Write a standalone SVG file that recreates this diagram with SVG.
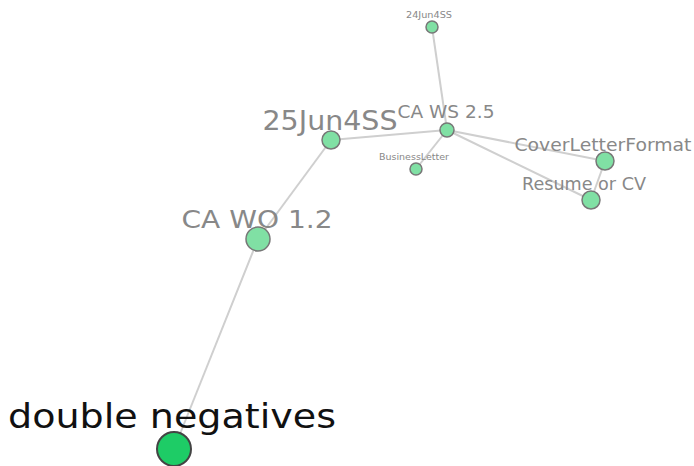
<svg xmlns="http://www.w3.org/2000/svg" width="694" height="466" viewBox="0 0 694 466">
<style>
.e{stroke:#cfcfcf;stroke-width:2;fill:none}
.n{fill:#80e0a4;stroke:#777;stroke-width:1.5}
.b{fill:#1ecc66;stroke:#444;stroke-width:2}
text{font-family:"DejaVu Sans","Liberation Sans",sans-serif;fill:#888;text-anchor:middle}
.big{fill:#111}
</style>
<rect width="694" height="466" fill="#fff"/>
<g id="connectors">
<line class="e" x1="174" y1="449" x2="258" y2="239"/>
<line class="e" x1="258" y1="239" x2="331" y2="140"/>
<line class="e" x1="331" y1="140" x2="447" y2="130"/>
<line class="e" x1="447" y1="130" x2="432" y2="27"/>
<line class="e" x1="447" y1="130" x2="416" y2="169"/>
<line class="e" x1="447" y1="130" x2="605" y2="161"/>
<line class="e" x1="447" y1="130" x2="591" y2="200"/>
<line class="e" x1="605" y1="161" x2="591" y2="200"/>
</g>
<g id="n-24jun"><circle class="n" cx="432" cy="27" r="6"/><text x="429" y="18" font-size="8" textLength="46" lengthAdjust="spacingAndGlyphs">24Jun4SS</text></g>
<g id="n-business"><circle class="n" cx="416" cy="169" r="6"/><text x="414" y="160" font-size="9" textLength="70" lengthAdjust="spacingAndGlyphs">BusinessLetter</text></g>
<g id="n-caws"><circle class="n" cx="447" cy="130" r="7"/><text x="446" y="118" font-size="17" textLength="97" lengthAdjust="spacingAndGlyphs">CA WS 2.5</text></g>
<g id="n-cover"><circle class="n" cx="605" cy="161" r="9"/><text x="603" y="151" font-size="17" textLength="177" lengthAdjust="spacingAndGlyphs">CoverLetterFormat</text></g>
<g id="n-resume"><circle class="n" cx="591" cy="200" r="9"/><text x="584" y="190" font-size="17" textLength="124" lengthAdjust="spacingAndGlyphs">Resume or CV</text></g>
<g id="n-25jun"><circle class="n" cx="331" cy="140" r="9"/><text x="330" y="130" font-size="27" textLength="135" lengthAdjust="spacingAndGlyphs">25Jun4SS</text></g>
<g id="n-cawo"><circle class="n" cx="258" cy="239" r="12"/><text x="257" y="228" font-size="24" textLength="151" lengthAdjust="spacingAndGlyphs">CA WO 1.2</text></g>
<g id="n-double"><circle class="b" cx="174" cy="449" r="17"/><text class="big" x="172" y="428" font-size="34" textLength="328" lengthAdjust="spacingAndGlyphs">double negatives</text></g>
</svg>
